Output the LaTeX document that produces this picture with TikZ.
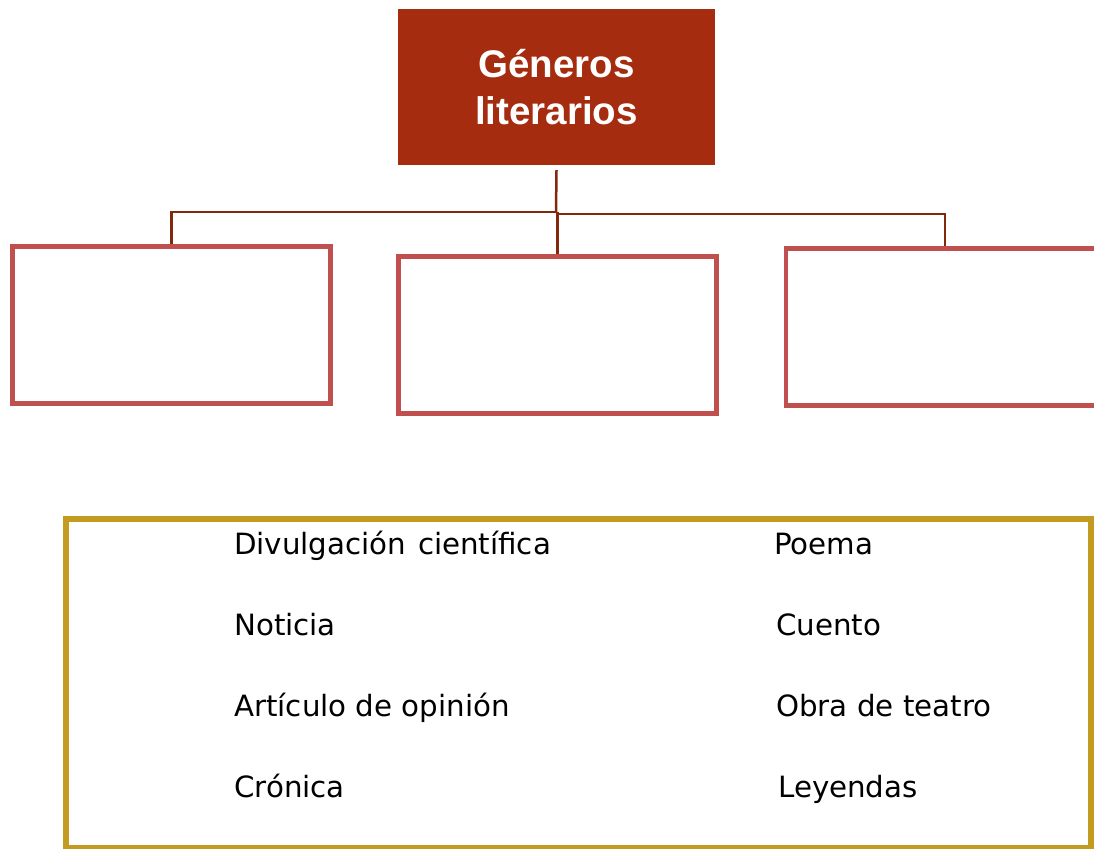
\documentclass[tikz,border=0pt]{standalone}
\usepackage{fontspec}
\setmainfont{DejaVu Sans}
\newfontfamily\titlefont{Liberation Sans}
\usetikzlibrary{positioning}

\definecolor{titlered}{RGB}{165,44,14}
\definecolor{linkbrown}{RGB}{130,40,12}
\definecolor{boxred}{RGB}{192,80,77}
\definecolor{framegold}{RGB}{195,155,32}

\begin{document}
\begin{tikzpicture}[
  % one unit = one pixel of the page, y pointing down
  x=1pt,
  y=-1pt,
  emptybox/.style={draw=boxred, line width=4.5pt, minimum width=318pt, minimum height=157pt, inner sep=0pt},
  link/.style={draw=linkbrown, line width=2.5pt},
  item/.style={anchor=base west, inner sep=0pt, font=\fontsize{29.3}{34}\selectfont}
]
  % Page frame
  \useasboundingbox (0,0) rectangle (1094,848);
  \clip (0,0) rectangle (1094,848);

  % Title box
  \node[fill=titlered, text=white, minimum width=317pt, minimum height=156pt, align=center,
        font=\titlefont\bfseries\fontsize{38.5}{47}\selectfont] (title) at (556.5,87) {Géneros\\literarios};

  % Empty boxes
  \node[emptybox] (left) at (171.5,325) {};
  \node[emptybox] (middle) at (557.5,335) {};
  \node[emptybox] (right) at (945,327) {};

  % Connectors
  \coordinate (hub) at (556,212);
  \draw[link] ([yshift=-5pt]title.south) -- (hub);
  \draw[link] (hub) -| (left.north);
  \draw[link] ([yshift=-2pt]hub) -| (right.north);
  \draw[link] (hub -| middle.north) -- (middle.north);

  % Word list frame
  \node[draw=framegold, line width=6pt, minimum width=1025pt, minimum height=329pt, inner sep=0pt] (list) at (578.5,683.5) {};

  % Left column
  \node[item] (divulgacion) at (234,554) {Divulgación\hspace{0.4em}científica};
  \node[item] (noticia) at (234,635) {Noticia};
  \node[item] (articulo) at (234,716) {Artículo de opinión};
  \node[item] (cronica) at (234,797) {Crónica};

  % Right column
  \node[item] (poema) at (774,554) {Poema};
  \node[item] (cuento) at (776,635) {Cuento};
  \node[item] (obra) at (776,716) {Obra de teatro};
  \node[item] (leyendas) at (778,797) {Leyendas};
\end{tikzpicture}
\end{document}
